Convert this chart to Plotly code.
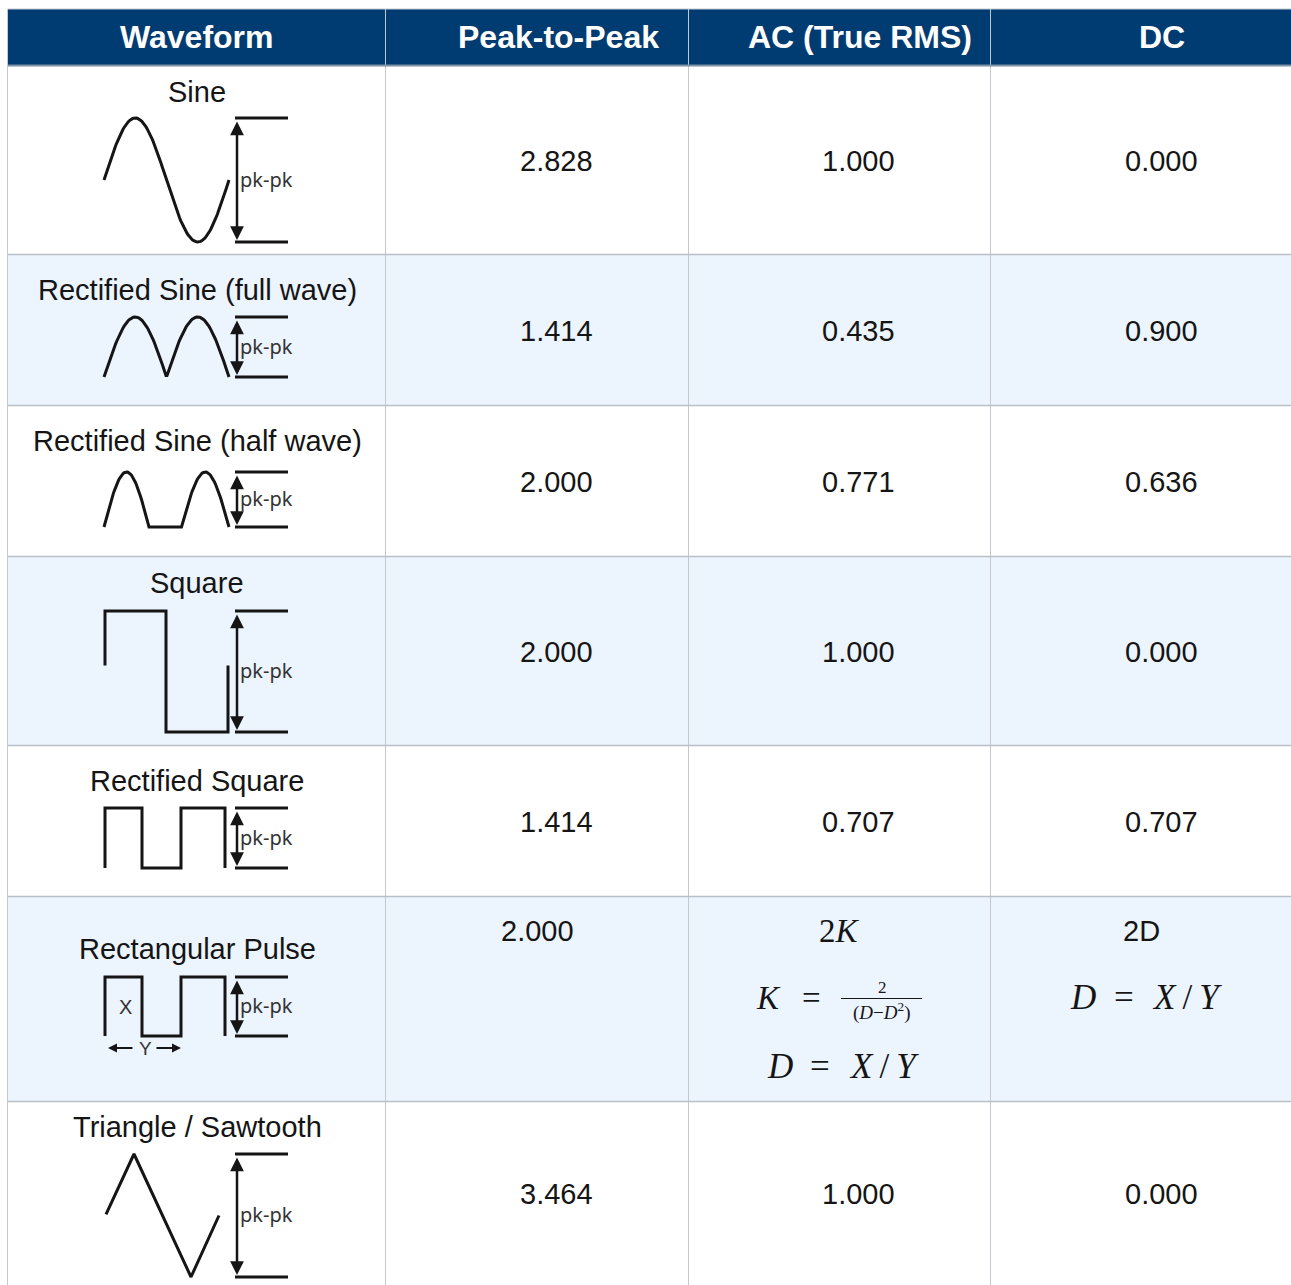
import numpy as np
import plotly.graph_objects as go

# table content
columns = ["Waveform", "Peak-to-Peak", "AC (True RMS)", "DC"]
waveforms = ["Sine", "Rectified Sine (full wave)", "Rectified Sine (half wave)", "Square",
             "Rectified Square", "Rectangular Pulse", "Triangle / Sawtooth"]
peak_to_peak = ["2.828", "1.414", "2.000", "2.000", "1.414", "2.000", "3.464"]
ac_true_rms = ["1.000", "0.435", "0.771", "1.000", "0.707", None, "1.000"]
dc_values = ["0.000", "0.900", "0.636", "0.000", "0.707", "2D", "0.000"]

# geometry (page pixels)
W, H = 1291, 1285
col_edges = [8, 386, 689, 991, 1291]
row_edges = [9, 66, 255, 406, 557, 746, 897, 1102, 1285]
header_x = [197, 558, 860, 1162]
value_x = [556, 858, 1161]
label_y = [92, 290, 441, 583, 781, 949, 1127]
icon_top = [118, 317, 472, 611, 808, 977, 1154]
icon_bot = [242, 377, 527, 732, 868, 1036, 1277]
icon_x0, icon_x1 = 104, 229

HEADER_BG = "#003b72"
ALT_BG = "#ecf4fe"
GRID = "#c4c8cd"
INK = "#151515"
SANS = "Liberation Sans, Arial, Helvetica, sans-serif"
SERIF = "Liberation Serif, DejaVu Serif, serif"


def icon_shape(kind):
    # normalised icon outline: x 0..1 left->right, y 0..1 top->bottom
    if kind == "sine":
        t = np.linspace(0, 1, 120)
        return t, 0.5 - 0.5 * np.sin(2 * np.pi * t)
    if kind == "full":
        t = np.linspace(0, 1, 120)
        return t, 1 - np.abs(np.sin(2 * np.pi * t))
    if kind == "half":
        a = np.linspace(0, 1, 50)
        xs = np.concatenate([0.36 * a, [0.62], 0.62 + 0.38 * a])
        ys = np.concatenate([1 - np.sin(np.pi * a), [1], 1 - np.sin(np.pi * a)])
        return xs, ys
    if kind == "square":
        return [0.008, 0.008, 0.496, 0.496, 0.992, 0.992], [0.45, 0, 0, 1, 1, 0.45]
    if kind == "rsquare":
        xs = [0.008, 0.008, 0.304, 0.304, 0.616, 0.616, 0.968, 0.968]
        return xs, [1, 0, 0, 1, 1, 0, 0, 1]
    if kind == "tri":
        return [0.016, 0.24, 0.696, 0.92], [0.49, 0, 1, 0.5]


icon_kinds = ["sine", "full", "half", "square", "rsquare", "rsquare", "tri"]

fig = go.Figure()
shapes = []
ann = []

# cell backgrounds
shapes.append(dict(type="rect", x0=col_edges[0], x1=W, y0=row_edges[0], y1=row_edges[1],
                   fillcolor=HEADER_BG, line_width=0, layer="below"))
for i in range(len(waveforms)):
    if i % 2 == 1:
        shapes.append(dict(type="rect", x0=col_edges[0], x1=W, y0=row_edges[i + 1], y1=row_edges[i + 2],
                           fillcolor=ALT_BG, line_width=0, layer="below"))

# grid lines
for x in col_edges[:-1]:
    shapes.append(dict(type="line", x0=x - 0.5, x1=x - 0.5, y0=row_edges[0], y1=H, line=dict(color=GRID, width=1)))
shapes.append(dict(type="line", x0=col_edges[0], x1=W, y0=row_edges[0], y1=row_edges[0],
                   line=dict(color=GRID, width=1)))
shapes.append(dict(type="line", x0=col_edges[0], x1=W, y0=row_edges[1] - 0.5, y1=row_edges[1] - 0.5,
                   line=dict(color="#7d90a5", width=2)))
for y in row_edges[2:-1]:
    shapes.append(dict(type="line", x0=col_edges[0], x1=W, y0=y - 0.5, y1=y - 0.5,
                       line=dict(color="#b9bfc6", width=1.5)))

# header text
for name, x in zip(columns, header_x):
    ann.append(dict(x=x, y=37, text="<b>%s</b>" % name, font=dict(family=SANS, size=32, color="white")))

# waveform column
for i, name in enumerate(waveforms):
    ann.append(dict(x=197, y=label_y[i], text=name, font=dict(family=SANS, size=29, color=INK)))
    top, bot = icon_top[i], icon_bot[i]
    xs, ys = icon_shape(icon_kinds[i])
    fig.add_trace(go.Scatter(
        x=[icon_x0 + (icon_x1 - icon_x0) * v for v in xs],
        y=[top + (bot - top) * v for v in ys],
        mode="lines", line=dict(color=INK, width=3), hoverinfo="skip", showlegend=False))
    # pk-pk bracket
    for yy in (top, bot):
        shapes.append(dict(type="line", x0=235, x1=288, y0=yy, y1=yy, line=dict(color=INK, width=3)))
    ann.append(dict(x=237, y=bot - 2, ax=237, ay=top + 2, axref="x", ayref="y", text="",
                    showarrow=True, arrowside="end+start", arrowhead=2, arrowsize=1.1,
                    arrowwidth=2.5, arrowcolor=INK))
    ann.append(dict(x=238, y=(top + bot) / 2 - 1, text="pk-pk", xanchor="left",
                    font=dict(family="Noto Sans, DejaVu Sans, sans-serif", size=20, color="#333333")))

# rectangular pulse annotations X / Y
ann.append(dict(x=125, y=1007, text="X", font=dict(family=SANS, size=20, color="#333333")))
ann.append(dict(x=145, y=1048, text="Y", font=dict(family=SANS, size=19, color="#333333")))
ann.append(dict(x=108, y=1048, ax=134, ay=1048, axref="x", ayref="y", text="", showarrow=True,
                arrowhead=2, arrowsize=1, arrowwidth=1.8, arrowcolor=INK))
ann.append(dict(x=181, y=1048, ax=155, ay=1048, axref="x", ayref="y", text="", showarrow=True,
                arrowhead=2, arrowsize=1, arrowwidth=1.8, arrowcolor=INK))

# value columns
for i in range(len(waveforms)):
    yc = (row_edges[i + 1] + row_edges[i + 2]) / 2
    if waveforms[i] == "Rectangular Pulse":
        ann.append(dict(x=537, y=931, text=peak_to_peak[i], font=dict(family=SANS, size=29, color=INK)))
        ann.append(dict(x=1141, y=931, text=dc_values[i], font=dict(family=SANS, size=29, color=INK)))
        continue
    for vals, x in zip((peak_to_peak, ac_true_rms, dc_values), value_x):
        ann.append(dict(x=x, y=yc, text=vals[i], font=dict(family=SANS, size=29, color=INK)))


# formulas for the rectangular pulse row
def d_equals(xd, xeq, xxy, y):
    ann.append(dict(x=xd, y=y, text="<i>D</i>", font=dict(family=SERIF, size=35, color=INK)))
    ann.append(dict(x=xeq, y=y, text="=", font=dict(family=SERIF, size=35, color=INK)))
    ann.append(dict(x=xxy, y=y, text="<i>X</i>\u2009/\u2009<i>Y</i>", font=dict(family=SERIF, size=35, color=INK)))


ann.append(dict(x=839, y=931, text="2<i>K</i>", font=dict(family=SERIF, size=33, color=INK)))
ann.append(dict(x=768, y=998, text="<i>K</i>", font=dict(family=SERIF, size=33, color=INK)))
ann.append(dict(x=811, y=998, text="=", font=dict(family=SERIF, size=33, color=INK)))
ann.append(dict(x=882, y=987, text="2", font=dict(family=SERIF, size=17, color=INK)))
shapes.append(dict(type="line", x0=841, x1=922, y0=998.5, y1=998.5, line=dict(color=INK, width=1.2)))
ann.append(dict(x=882, y=1011, text="(<i>D</i>\u2212<i>D</i><sup>2</sup>)", font=dict(family=SERIF, size=19, color=INK)))
d_equals(780, 820, 884, 1066)
d_equals(1083, 1124, 1187, 997)

for a in ann:
    a.setdefault("showarrow", False)
    a.setdefault("xref", "x")
    a.setdefault("yref", "y")

fig.update_layout(
    width=W, height=H,
    margin=dict(l=0, r=0, t=0, b=0),
    paper_bgcolor="white", plot_bgcolor="white",
    xaxis=dict(range=[0, W], visible=False, fixedrange=True),
    yaxis=dict(range=[H, 0], visible=False, fixedrange=True),
    shapes=shapes, annotations=ann,
)

fig.write_html("out.html", config={"displayModeBar": False},
               post_script="document.body.style.margin='0';document.body.style.overflow='hidden';")
